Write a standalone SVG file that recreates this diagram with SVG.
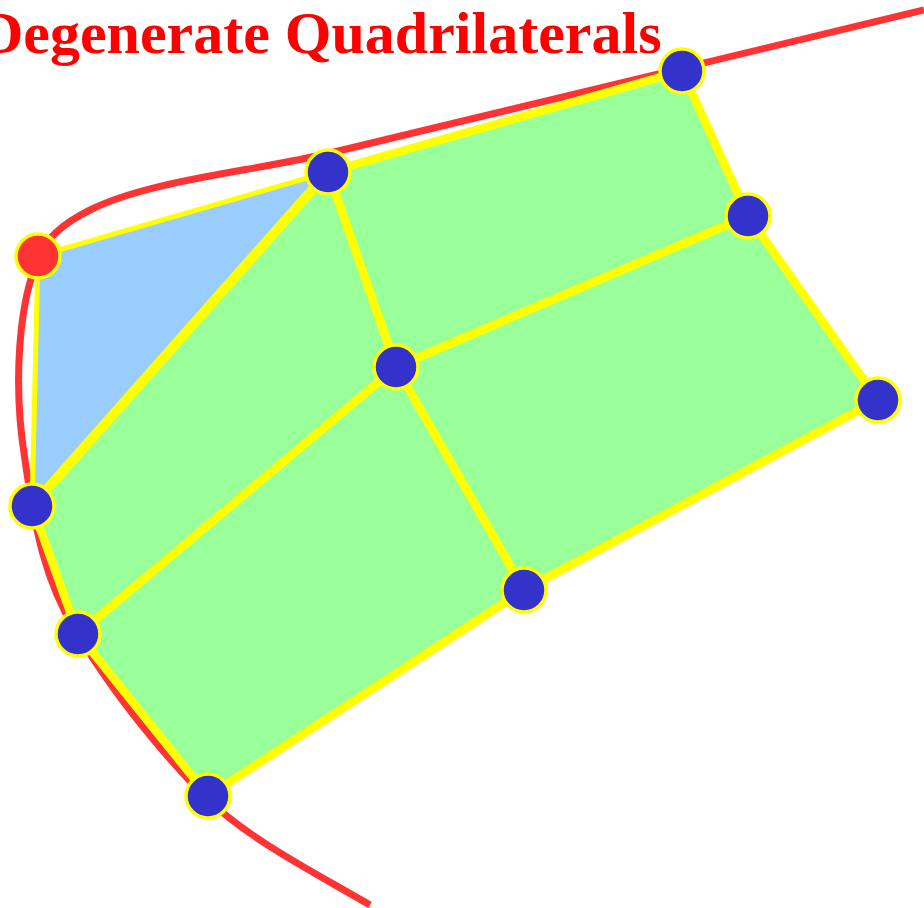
<svg xmlns="http://www.w3.org/2000/svg" width="924" height="908" viewBox="0 0 924 908">
<style>
.title{font-family:"Liberation Serif","Times New Roman",serif;font-weight:bold;font-size:60px;fill:#FF0000}
.quad{fill:#99FF99;stroke:#FFFF00;stroke-width:8.5;stroke-linejoin:round}
.tri{fill:#99CCFF;stroke:#FFFF00;stroke-width:5;stroke-linejoin:round}
.edge{fill:none;stroke:#FFFF00;stroke-linecap:round}
.curve{fill:none;stroke:#FF3333;stroke-width:7}
.node{fill:#3333CC;stroke:#FFFF00;stroke-width:3.5}
.rnode{fill:#FF3333;stroke:#FFFF00;stroke-width:3.5}
</style>
<rect width="924" height="908" fill="#FFFFFF"/>
<text class="title" x="-20" y="53">Degenerate Quadrilaterals</text>
<g id="connectors">
<path id="boundary" class="curve" d="M 924,10 L 330,153 C 250,172 150,180 90,210 C 60,225 45,240 38,260 C 20,300 12,380 25,460 C 35,530 45,580 75,630 C 108,685 150,740 205,797 C 250,840 310,870 370,905"/>
<polygon id="tri-RAG" class="tri" points="38,256 328,172 32,506"/>
<polygon id="quad-ABCD" class="quad" points="328,172 682,71 748,216 396,367"/>
<polygon id="quad-CEFD" class="quad" points="748,216 878,400 524,590 396,367"/>
<polygon id="quad-DFIH" class="quad" points="396,367 524,590 208,796 78,634"/>
<polygon id="quad-ADHG" class="quad" points="328,172 396,367 78,634 32,506"/>
<line class="edge" x1="328" y1="172" x2="32" y2="506" stroke-width="10"/>
</g>
<g id="node-R"><circle class="rnode" cx="38" cy="256" r="22"/></g>
<g id="node-A"><circle class="node" cx="328" cy="172" r="22"/></g>
<g id="node-B"><circle class="node" cx="682" cy="71" r="22"/></g>
<g id="node-C"><circle class="node" cx="748" cy="216" r="22"/></g>
<g id="node-D"><circle class="node" cx="396" cy="367" r="22"/></g>
<g id="node-E"><circle class="node" cx="878" cy="400" r="22"/></g>
<g id="node-F"><circle class="node" cx="524" cy="590" r="22"/></g>
<g id="node-G"><circle class="node" cx="32" cy="506" r="22"/></g>
<g id="node-H"><circle class="node" cx="78" cy="634" r="22"/></g>
<g id="node-I"><circle class="node" cx="208" cy="796" r="22"/></g>
</svg>
